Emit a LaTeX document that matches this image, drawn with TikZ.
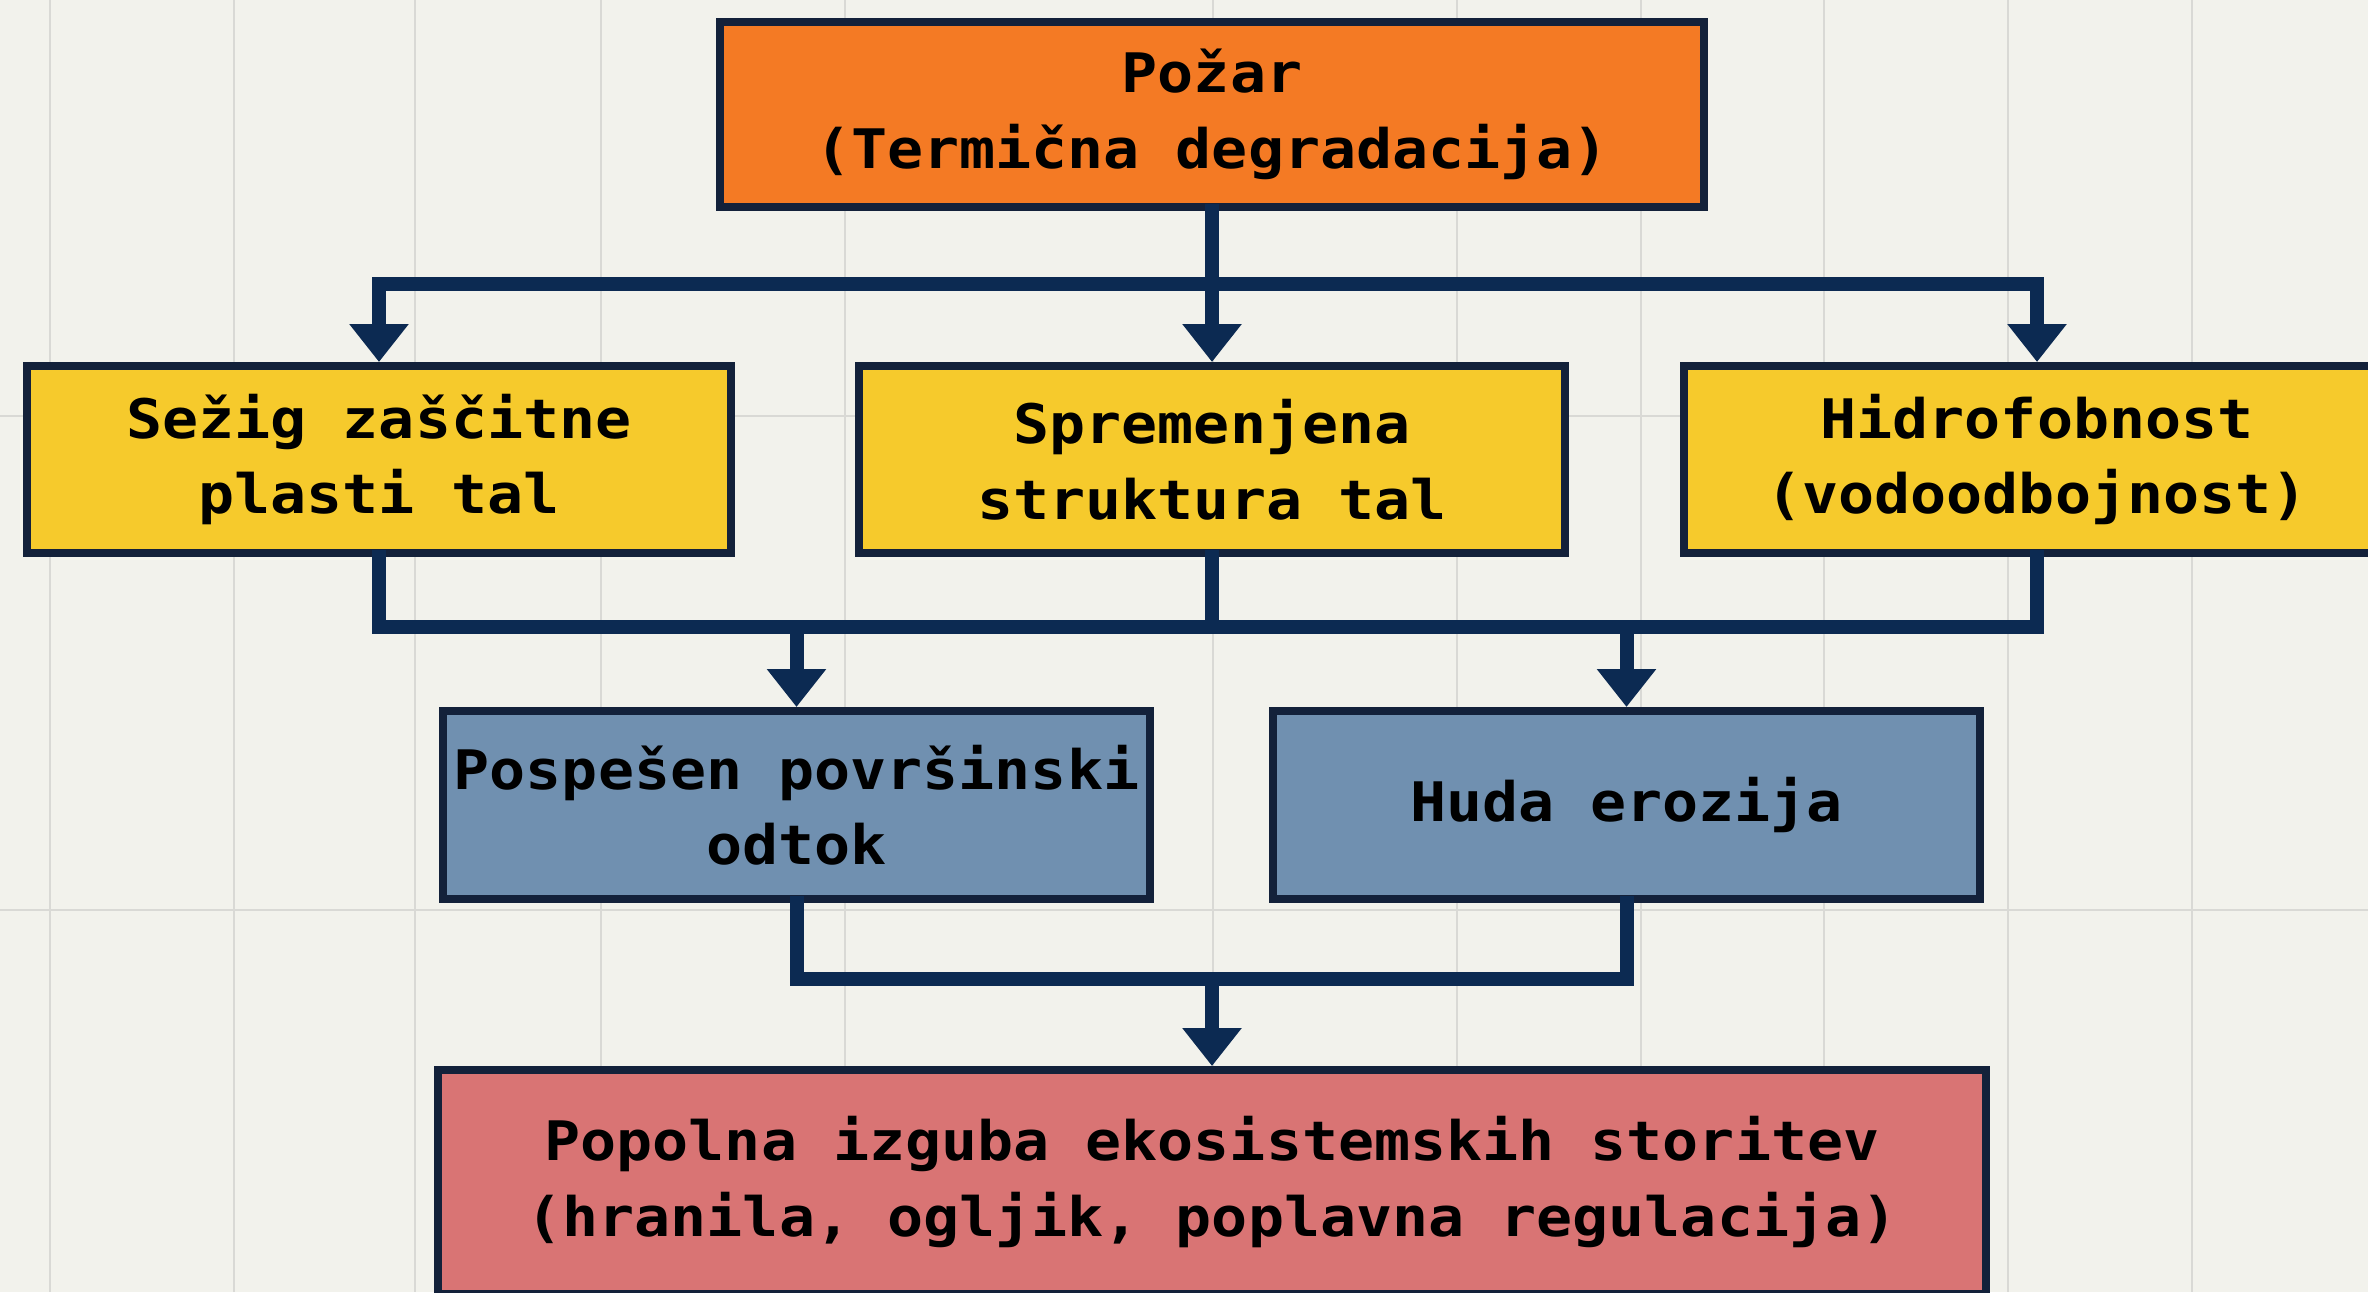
\documentclass[tikz,border=0pt]{standalone}
\usepackage{fontspec}
\setmonofont{DejaVu Sans Mono}[FakeStretch=1.1]
\usetikzlibrary{arrows.meta}
\definecolor{paper}{HTML}{F2F2EC}
\definecolor{gridline}{HTML}{D9D9D5}
\definecolor{navy}{HTML}{0C2A52}
\definecolor{boxline}{HTML}{13213A}
\definecolor{fireorange}{HTML}{F47A24}
\definecolor{soilyellow}{HTML}{F6CA2C}
\definecolor{waterblue}{HTML}{7090B0}
\definecolor{lossred}{HTML}{D97474}
\begin{document}
\begin{tikzpicture}[box/.style = {draw=boxline, line width=0.08cm, align=center, inner sep=0pt,
		font=\ttfamily\bfseries\fontsize{15.5}{21.5}\selectfont},
	link/.style = {draw=navy, line width=0.14cm, line cap=rect},
	feed/.style = {draw=navy, line width=0.14cm, -{Triangle[width=0.57cm,length=0.38cm]}}]

		\useasboundingbox (0,0) rectangle (23.68,-12.92);
		\clip (0,0) rectangle (23.68,-12.92);
		\fill[paper] (0,0) rectangle (23.68,-12.92);
		\foreach \gx in {0.50,2.34,4.15,6.01,8.45,12.13,14.57,16.41,18.24,20.08,21.92}
			\draw[gridline, line width=0.02cm] (\gx,0) -- (\gx,-12.92);
		\foreach \gy in {4.16,9.10}
			\draw[gridline, line width=0.02cm] (0,-\gy) -- (23.68,-\gy);

		\node[box, fill=fireorange, minimum width=9.84cm, minimum height=1.85cm] (fire) at (12.12,-1.145) {Požar\\(Termična degradacija)};

		\node[box, fill=soilyellow, minimum width=7.04cm, minimum height=1.87cm] (topsoil) at (3.79,-4.595) {Sežig zaščitne\\plasti tal};
		\node[box, fill=soilyellow, minimum width=7.06cm, minimum height=1.87cm] (structure) at (12.12,-4.595) {Spremenjena\\struktura tal};
		\node[box, fill=soilyellow, minimum width=7.06cm, minimum height=1.87cm] (hydro) at (20.37,-4.595) {Hidrofobnost\\(vodoodbojnost)};

		\node[box, fill=waterblue, minimum width=7.07cm, minimum height=1.88cm] (runoff) at (7.965,-8.05) {Pospešen površinski\\odtok};
		\node[box, fill=waterblue, minimum width=7.07cm, minimum height=1.88cm] (erosion) at (16.265,-8.05) {Huda erozija};

		\node[box, fill=lossred, minimum width=15.48cm, minimum height=2.24cm] (loss) at (12.12,-11.82) {Popolna izguba ekosistemskih storitev\\(hranila, ogljik, poplavna regulacija)};

		\coordinate (fork) at (12.12,-2.84);
		\coordinate (join) at (12.12,-6.27);
		\coordinate (merge) at (12.12,-9.79);

		\draw[link] (fire) -- (fork);
		\draw[link] (topsoil |- fork) -- (hydro |- fork);
		\foreach \n in {topsoil, structure, hydro}
			\draw[feed] (\n |- fork) -- (\n);

		\foreach \n in {topsoil, structure, hydro}
			\draw[link] (\n) -- (\n |- join);
		\draw[link] (topsoil |- join) -- (hydro |- join);
		\foreach \n in {runoff, erosion}
			\draw[feed] (\n |- join) -- (\n);

		\foreach \n in {runoff, erosion}
			\draw[link] (\n) -- (\n |- merge);
		\draw[link] (runoff |- merge) -- (erosion |- merge);
		\draw[feed] (merge) -- (loss);
	\end{tikzpicture}
\end{document}
